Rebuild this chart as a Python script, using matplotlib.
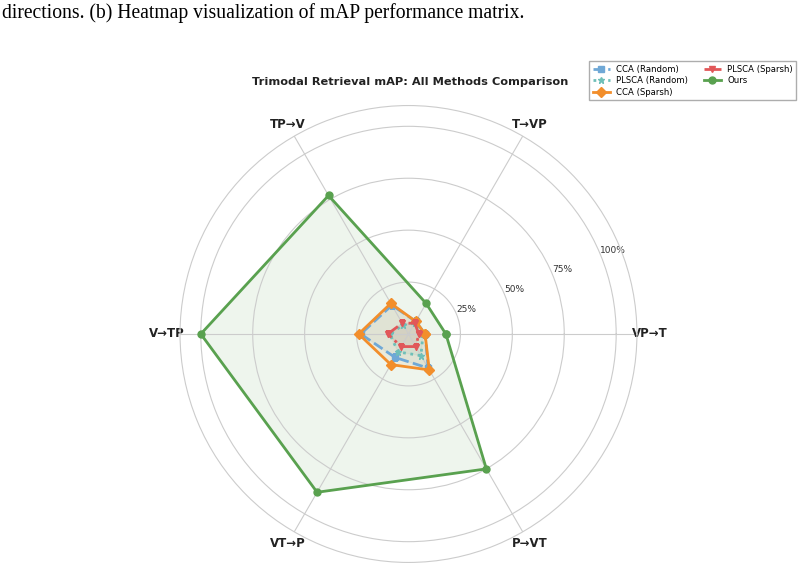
import numpy as np
import matplotlib.pyplot as plt

directions = ['VP→T', 'T→VP', 'TP→V', 'V→TP', 'VT→P', 'P→VT']
methods = ['CCA (Random)', 'PLSCA (Random)', 'CCA (Sparsh)', 'PLSCA (Sparsh)', 'Ours']

cca_random = [0.08, 0.07, 0.16, 0.23, 0.13, 0.19]
plsca_random = [0.07, 0.06, 0.05, 0.09, 0.10, 0.12]
cca_sparsh = [0.08, 0.07, 0.17, 0.24, 0.17, 0.20]
plsca_sparsh = [0.05, 0.06, 0.06, 0.10, 0.07, 0.07]
ours = [0.18, 0.17, 0.77, 1.00, 0.88, 0.75]

series = [cca_random, plsca_random, cca_sparsh, plsca_sparsh, ours]
colors = ['#6fa8d6', '#6fbfb8', '#f28e2b', '#e15759', '#59a14f']
styles = ['--', ':', '-', '-.', '-']
markers = ['s', '*', 'D', 'v', 'o']

fig = plt.figure(figsize=(8.03, 5.72), dpi=100)
fig.text(0.002, 0.968, 'directions. (b) Heatmap visualization of mAP performance matrix.',
         family='Liberation Serif', fontsize=14.1, va='baseline', ha='left')

ax = fig.add_axes([0.2242, 0.0166, 0.569, 0.799], projection='polar')
angles = np.linspace(0, 2 * np.pi, len(directions), endpoint=False)

for vals, name, c, ls, m in zip(series, methods, colors, styles, markers):
    v = list(vals) + [vals[0]]
    a = list(angles) + [angles[0]]
    ax.plot(a, v, linestyle=ls, color=c, linewidth=2, marker=m, markersize=5, label=name)
    ax.fill(a, v, color=c, alpha=0.1)

ax.set_ylim(0, 1.1)
ax.set_yticks([0.25, 0.5, 0.75, 1.0])
ax.set_yticklabels(['25%', '50%', '75%', '100%'], fontsize=6.5, color='#333333')
ax.set_rlabel_position(22.5)
ax.set_xticks(angles)
ax.set_xticklabels(directions, fontsize=8.5, fontweight='bold', color='#222222')
ax.tick_params(axis='x', pad=-1)
ax.grid(color='#cccccc', linewidth=0.8)
ax.spines['polar'].set_color('#cccccc')
ax.spines['polar'].set_linewidth(0.8)

fig.text(0.511, 0.857, 'Trimodal Retrieval mAP: All Methods Comparison',
         ha='center', va='center', fontsize=8.2, fontweight='bold', color='#222222')
fig.legend(loc='upper right', bbox_to_anchor=(0.997, 0.9), ncol=2, fontsize=6.1,
           frameon=True, edgecolor='#999999', fancybox=False, handlelength=2.0,
           columnspacing=1.8, labelspacing=0.3)

fig.savefig('out.png', dpi=100)
